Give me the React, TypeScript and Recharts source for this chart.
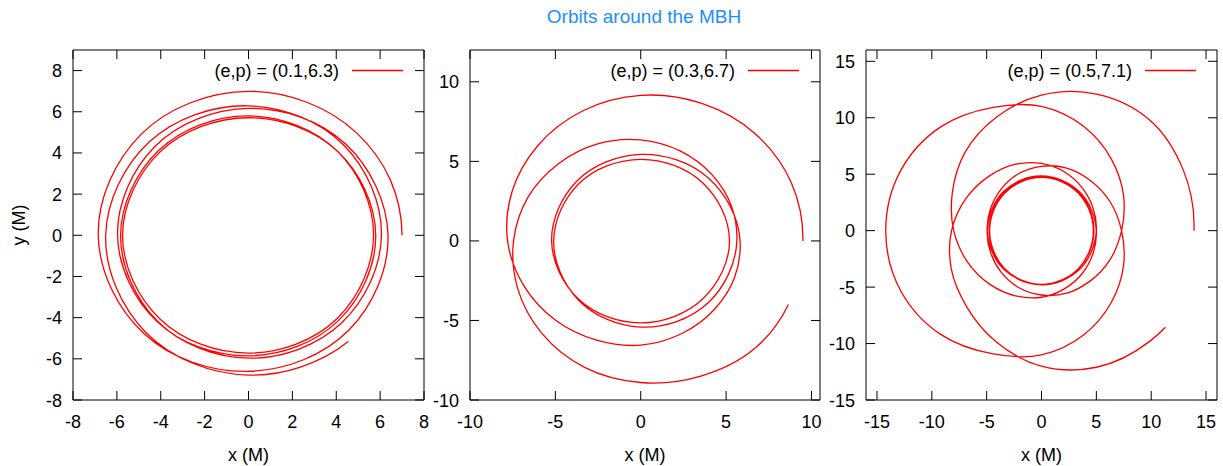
import { LineChart, Line, XAxis, YAxis } from 'recharts'

const W = 1223
const H = 466
const TOP = 50
const BOTTOM = 400
const TICK = 9
const FONT = '"Liberation Sans", Arial, Helvetica, sans-serif'
const RED = '#ff0000'

// orbit points, in M
const orbit1X = [7.0, 6.47, 4.95, 0, -4.9, -6.85, -4.77, 0, 4.59, 6.36, 4.43, 0, -4.29, -5.97, -4.18, 0, 4.12, 5.8, 4.07, 0, -4.04, -5.74, -4.05, 0, 4.04, 5.7, 4.07, 0, -4.11, -5.83, -4.16, 0, 4.25, 6.06, 4.36, 0, -4.53, -6.51, -4.7, 0, 4.55]
const orbit1Y = [0, 2.68, 4.95, 6.99, 4.9, 0, -4.77, -6.61, -4.59, 0, 4.43, 6.16, 4.29, 0, -4.18, -5.86, -4.12, 0, 4.07, 5.71, 4.04, 0, -4.05, -5.72, -4.04, 0, 4.07, 5.8, 4.11, 0, -4.16, -5.97, -4.25, 0, 4.36, 6.29, 4.53, 0, -4.7, -6.79, -5.16]

const orbit2X = [
  9.5, 8.82, 6.72, 3.58, 0, -3.39, -6.01, -7.53, -7.8, -6.84, -4.99, -2.58, 0, 2.41, 4.31, 5.5, 5.82,
  3.96, 0, -3.75, -5.22, -3.65, 0, 3.64, 5.2, 3.64, 0, -3.61, -5.1, -3.68, 0, 3.92, 5.63,
  5.31, 4.17, 2.33, 0, -2.53, -4.84, -6.61, -7.45, -7.21, -5.8, -3.29, 0, 3.52, 6.72, 8.65,
]
const orbit2Y = [
  0, 3.65, 6.72, 8.64, 9.15, 8.18, 6.01, 3.12, 0, -2.83, -4.99, -6.24, -6.55, -5.82, -4.31, -2.28, 0,
  3.96, 5.44, 3.75, 0, -3.65, -5.15, -3.64, 0, 3.64, 5.13, 3.61, 0, -3.68, -5.42, -3.92, 0,
  2.2, 4.17, 5.64, 6.35, 6.1, 4.84, 2.74, 0, -2.98, -5.8, -7.95, -8.9, -8.5, -6.72, -4.0,
]

const orbit3X = [
  13.9, 12.93, 9.83, 5.01, 0, -4.15, -6.96, -8.13, -8.0, -6.74, -4.74, -2.39, 0,
  3.75, 5.0, 3.45, 0, -3.39, -4.78, -3.37, 0, 3.37, 4.78, 3.39, 0, -3.46, -4.95, -3.68,
  -2.09, 0, 2.3, 4.45, 6.24, 7.3, 7.48, 6.36, 3.83, 0, -4.52, -9.19, -12.84, -14.2,
  -12.84, -9.19, -4.52, 0, 3.83, 6.36, 7.48, 7.3, 6.24, 4.45, 2.3, 0, -2.09, -3.68,
  -4.95, -3.43, 0, 3.36, 4.73, 3.34, 0, -3.34, -4.73, -3.36, 0, 3.45, 5.0, 3.75,
  2.14, 0, -2.43, -4.81, -6.88, -8.2, -8.22, -6.79, -4.09, 0, 5.01, 9.83, 11.3,
]
const orbit3Y = [
  0, 5.36, 9.83, 12.1, 12.0, 10.02, 6.96, 3.37, 0, -2.79, -4.74, -5.77, -5.9,
  -3.75, 0, 3.45, 4.82, 3.39, 0, -3.37, -4.77, -3.37, 0, 3.39, 4.84, 3.46, 0, -3.68,
  -5.04, -5.7, -5.54, -4.45, -2.58, 0, 3.1, 6.36, 9.24, 11.0, 10.9, 9.19, 5.32, 0,
  -5.32, -9.19, -10.9, -11.0, -9.24, -6.36, -3.1, 0, 2.58, 4.45, 5.54, 5.7, 5.04, 3.68,
  0, -3.43, -4.78, -3.36, 0, 3.34, 4.72, 3.34, 0, -3.36, -4.8, -3.45, 0, 3.75,
  5.17, 5.95, 5.87, 4.81, 2.85, 0, -3.41, -6.79, -9.89, -12.0, -12.1, -9.83, -8.55,
]

const ticks1 = [-8, -6, -4, -2, 0, 2, 4, 6, 8]
const ticks2 = [-10, -5, 0, 5, 10]
const ticks3 = [-15, -10, -5, 0, 5, 10, 15]

const panels = [
  { name: '(e,p) = (0.1,6.3)', xs: orbit1X, ys: orbit1Y, left: 73, right: 424, xDomain: [-8, 8], yDomain: [-8, 9], xTicks: ticks1, yTicks: ticks1 },
  { name: '(e,p) = (0.3,6.7)', xs: orbit2X, ys: orbit2Y, left: 470, right: 820, xDomain: [-10, 10.5], yDomain: [-10, 12], xTicks: ticks2, yTicks: ticks2 },
  { name: '(e,p) = (0.5,7.1)', xs: orbit3X, ys: orbit3Y, left: 866, right: 1217, xDomain: [-16, 16], yDomain: [-15, 16], xTicks: ticks3, yTicks: ticks3 },
]

// smooth curve through the points (chord-weighted tangents, handles of chord/3)
function orbitCurve(context: any) {
  let pts: number[][] = []
  const dist = (a: number[], b: number[]) => Math.hypot(b[0] - a[0], b[1] - a[1]) || 1
  const norm = (v: number[]) => {
    const d = Math.hypot(v[0], v[1]) || 1
    return [v[0] / d, v[1] / d]
  }
  // mirror the neighbour tangent across the chord, so the ends bend like the rest
  const endTan = (a: number[], b: number[], t: number[]) => {
    const c = norm([b[0] - a[0], b[1] - a[1]])
    const d = c[0] * t[0] + c[1] * t[1]
    return [2 * d * c[0] - t[0], 2 * d * c[1] - t[1]]
  }
  return {
    areaStart() {},
    areaEnd() {},
    lineStart() { pts = [] },
    point(x: number, y: number) { pts.push([x, y]) },
    lineEnd() {
      const n = pts.length
      if (!n) return
      context.moveTo(pts[0][0], pts[0][1])
      if (n < 3) {
        if (n === 2) context.lineTo(pts[1][0], pts[1][1])
        return
      }
      const tan = pts.map((p, i) => {
        if (i === 0 || i === n - 1) return [0, 0]
        const a = pts[i - 1]
        const b = pts[i + 1]
        const d1 = dist(a, p)
        const d2 = dist(p, b)
        const v1 = [(p[0] - a[0]) / d1, (p[1] - a[1]) / d1]
        const v2 = [(b[0] - p[0]) / d2, (b[1] - p[1]) / d2]
        return norm([d2 * v1[0] + d1 * v2[0], d2 * v1[1] + d1 * v2[1]])
      })
      tan[0] = endTan(pts[0], pts[1], tan[1])
      tan[n - 1] = endTan(pts[n - 2], pts[n - 1], tan[n - 2])
      for (let i = 0; i < n - 1; i++) {
        const p1 = pts[i]
        const p2 = pts[i + 1]
        const len = dist(p1, p2) / 3
        context.bezierCurveTo(
          p1[0] + tan[i][0] * len, p1[1] + tan[i][1] * len,
          p2[0] - tan[i + 1][0] * len, p2[1] - tan[i + 1][1] * len,
          p2[0], p2[1],
        )
      }
    },
  }
}

const textStyle = { fontFamily: FONT, fontSize: 18, fill: '#000' }

function Panel({ p }: { p: any }) {
  const data = p.xs.map((x: number, i: number) => ({ x, y: p.ys[i] }))

  const bottomTick = (t: any) => (
    <g>
      <line x1={t.x} x2={t.x} y1={BOTTOM} y2={BOTTOM - TICK} stroke="#000" />
      <text x={t.x} y={428} textAnchor="middle" style={textStyle}>{t.payload.value}</text>
    </g>
  )
  const topTick = (t: any) => (
    <line x1={t.x} x2={t.x} y1={TOP} y2={TOP + TICK} stroke="#000" />
  )
  const leftTick = (t: any) => (
    <g>
      <line x1={p.left} x2={p.left + TICK} y1={t.y} y2={t.y} stroke="#000" />
      <text x={p.left - 11} y={t.y + 6.5} textAnchor="end" style={textStyle}>{t.payload.value}</text>
    </g>
  )
  const rightTick = (t: any) => (
    <line x1={p.right} x2={p.right - TICK} y1={t.y} y2={t.y} stroke="#000" />
  )

  return (
    <div style={{ position: 'absolute', left: 0, top: 0 }}>
      <LineChart
        width={W} height={H} data={data}
        margin={{ top: TOP - 1, bottom: H - BOTTOM - 30, left: p.left - 60, right: W - p.right - 1 }}
      >
        <XAxis xAxisId="b" type="number" dataKey="x" domain={p.xDomain} ticks={p.xTicks} interval={0}
          allowDataOverflow height={30} tickSize={0} tickLine={false} axisLine={{ stroke: '#000' }} tick={bottomTick} />
        <XAxis xAxisId="t" orientation="top" type="number" dataKey="x" domain={p.xDomain} ticks={p.xTicks} interval={0}
          allowDataOverflow height={1} tickSize={0} tickLine={false} axisLine={{ stroke: '#000' }} tick={topTick} />
        <YAxis yAxisId="l" type="number" dataKey="y" domain={p.yDomain} ticks={p.yTicks} interval={0}
          allowDataOverflow width={60} tickSize={0} tickLine={false} axisLine={{ stroke: '#000' }} tick={leftTick} />
        <YAxis yAxisId="r" orientation="right" type="number" dataKey="y" domain={p.yDomain} ticks={p.yTicks} interval={0}
          allowDataOverflow width={1} tickSize={0} tickLine={false} axisLine={{ stroke: '#000' }} tick={rightTick} />
        <Line xAxisId="t" yAxisId="r" type="linear" dataKey="y" stroke="none" legendType="none"
          dot={false} activeDot={false} isAnimationActive={false} />
        <Line xAxisId="b" yAxisId="l" type={orbitCurve as any} dataKey="y" stroke={RED} strokeWidth={1.3}
          dot={false} activeDot={false} isAnimationActive={false} />
      </LineChart>
    </div>
  )
}

export default function App() {
  return (
    <div style={{ position: 'absolute', left: 0, top: 0, width: W, height: H, background: '#fff' }}>
      {panels.map((p) => <Panel key={p.name} p={p} />)}
      <svg width={W} height={H} style={{ position: 'absolute', left: 0, top: 0, pointerEvents: 'none' }}>
        <text x={644} y={22.5} textAnchor="middle" style={{ fontFamily: FONT, fontSize: 19, fill: '#1b8fff' }}>
          Orbits around the MBH
        </text>
        <text transform="translate(24.5,225) rotate(-90)" textAnchor="middle" style={textStyle}>y (M)</text>
        {panels.map((p) => (
          <g key={p.name}>
            <text x={(p.left + p.right) / 2} y={461} textAnchor="middle" style={textStyle}>x (M)</text>
            <text x={p.right - 85} y={76.5} textAnchor="end" style={textStyle}>{p.name}</text>
            <line x1={p.right - 72} x2={p.right - 21} y1={70.5} y2={70.5} stroke={RED} strokeWidth={1.3} />
          </g>
        ))}
      </svg>
    </div>
  )
}
